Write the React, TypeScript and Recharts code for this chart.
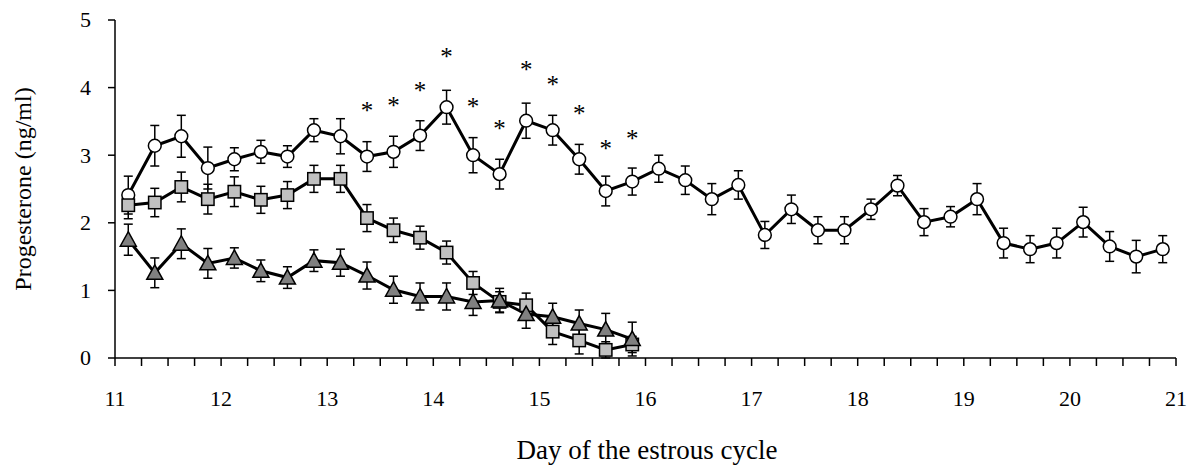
import React from 'react';
import { ComposedChart, Line, Scatter, XAxis, YAxis, ErrorBar, Label } from 'recharts';

const days = [
  11.125, 11.375, 11.625, 11.875, 12.125, 12.375, 12.625, 12.875, 13.125, 13.375,
  13.625, 13.875, 14.125, 14.375, 14.625, 14.875, 15.125, 15.375, 15.625, 15.875,
  16.125, 16.375, 16.625, 16.875, 17.125, 17.375, 17.625, 17.875, 18.125, 18.375,
  18.625, 18.875, 19.125, 19.375, 19.625, 19.875, 20.125, 20.375, 20.625, 20.875,
];

const circleMean = [
  2.41, 3.14, 3.28, 2.81, 2.94, 3.05, 2.98, 3.37, 3.28, 2.98,
  3.05, 3.29, 3.71, 3.0, 2.72, 3.51, 3.37, 2.94, 2.47, 2.61,
  2.8, 2.63, 2.35, 2.56, 1.82, 2.2, 1.89, 1.89, 2.2, 2.55,
  2.01, 2.09, 2.35, 1.7, 1.61, 1.7, 2.01, 1.65, 1.5, 1.61,
];
const circleErr = [
  0.28, 0.3, 0.31, 0.31, 0.17, 0.17, 0.16, 0.17, 0.26, 0.22,
  0.23, 0.22, 0.25, 0.26, 0.22, 0.26, 0.22, 0.22, 0.22, 0.2,
  0.2, 0.21, 0.23, 0.21, 0.2, 0.21, 0.2, 0.2, 0.15, 0.15,
  0.2, 0.15, 0.23, 0.22, 0.2, 0.22, 0.22, 0.22, 0.24, 0.2,
];

const squareMean = [
  2.26, 2.3, 2.53, 2.35, 2.46, 2.34, 2.41, 2.65, 2.65, 2.07,
  1.89, 1.78, 1.56, 1.11, 0.83, 0.78, 0.39, 0.26, 0.12, 0.2,
];
const squareErr = [
  0.2, 0.21, 0.22, 0.22, 0.22, 0.2, 0.2, 0.2, 0.2, 0.2,
  0.18, 0.17, 0.17, 0.17, 0.15, 0.18, 0.19, 0.2, 0.12, 0.12,
];

const triMean = [
  1.75, 1.26, 1.69, 1.4, 1.48, 1.29, 1.19, 1.44, 1.41, 1.22,
  1.01, 0.91, 0.91, 0.83, 0.85, 0.65, 0.61, 0.51, 0.42, 0.28,
];
const triErr = [
  0.23, 0.22, 0.22, 0.22, 0.15, 0.16, 0.16, 0.16, 0.2, 0.2,
  0.2, 0.2, 0.2, 0.2, 0.18, 0.21, 0.2, 0.2, 0.24, 0.25,
];

const starDays = [13.375, 13.625, 13.875, 14.125, 14.375, 14.625, 14.875, 15.125, 15.375, 15.625, 15.875];
const starLevel = [3.72, 3.79, 4.01, 4.51, 3.77, 3.45, 4.32, 4.1, 3.67, 3.15, 3.3];

const xTicks = [
  11, 11.25, 11.5, 11.75, 12, 12.25, 12.5, 12.75, 13, 13.25, 13.5, 13.75,
  14, 14.25, 14.5, 14.75, 15, 15.25, 15.5, 15.75, 16, 16.25, 16.5, 16.75,
  17, 17.25, 17.5, 17.75, 18, 18.25, 18.5, 18.75, 19, 19.25, 19.5, 19.75,
  20, 20.25, 20.5, 20.75, 21,
];
const xLabels = ['11', '12', '13', '14', '15', '16', '17', '18', '19', '20', '21'];
const yTicks = [0, 1, 2, 3, 4, 5];
const yLabels = ['0', '1', '2', '3', '4', '5'];

const data = days.map((d, i) => ({
  x: d,
  c: circleMean[i],
  cErr: circleErr[i],
  s: squareMean[i],
  sErr: squareErr[i],
  t: triMean[i],
  tErr: triErr[i],
}));

const starData = starDays.map((d, i) => ({ x: d, y: starLevel[i] }));

const FONT = "'Liberation Serif', 'Times New Roman', serif";

const SquareDot = (props: any) => {
  const { cx, cy, index } = props;
  if (cx == null || cy == null || props.value == null) return <g key={`s${index}`} />;
  return <rect key={`s${index}`} x={cx - 6.2} y={cy - 6.2} width={12.4} height={12.4} fill="#c0c0c0" stroke="#000" strokeWidth={1.5} />;
};

const TriDot = (props: any) => {
  const { cx, cy, index } = props;
  if (cx == null || cy == null || props.value == null) return <g key={`t${index}`} />;
  const pts = `${cx},${cy - 8} ${cx + 8},${cy + 6.5} ${cx - 8},${cy + 6.5}`;
  return <polygon key={`t${index}`} points={pts} fill="#808080" stroke="#000" strokeWidth={1.5} />;
};

const CircleDot = (props: any) => {
  const { cx, cy, index } = props;
  if (cx == null || cy == null) return <g key={`c${index}`} />;
  return <circle key={`c${index}`} cx={cx} cy={cy} r={6.4} fill="#fff" stroke="#000" strokeWidth={1.5} />;
};

const Star = (props: any) => {
  const { cx, cy } = props;
  return (
    <text x={cx} y={cy + 12} textAnchor="middle" fontFamily={FONT} fontSize={25} fill="#000">*</text>
  );
};

const XTick = (props: any) => {
  const { x, y, payload } = props;
  const v = payload.value;
  const idx = Number.isInteger(v) ? v - 11 : -1;
  if (idx < 0) return <g />;
  return (
    <text x={x} y={y + 24} textAnchor="middle" fontFamily={FONT} fontSize={22} fill="#000">
      {xLabels[idx]}
    </text>
  );
};

const YTick = (props: any) => {
  const { y, payload } = props;
  const idx = yTicks.indexOf(payload.value);
  return (
    <text x={83} y={y + 7.4} textAnchor="end" fontFamily={FONT} fontSize={22} fill="#000">
      {yLabels[idx]}
    </text>
  );
};

export default function App() {
  return (
    <ComposedChart width={1180} height={460} data={data} margin={{ top: 12, right: 12, left: 0, bottom: 8 }}>
      <XAxis
        dataKey="x"
        type="number"
        domain={[11, 21]}
        ticks={xTicks}
        interval={0}
        allowDecimals
        height={102}
        tickSize={8}
        tickMargin={16}
        tick={<XTick />}
        axisLine={{ stroke: '#000', strokeWidth: 1.5 }}
        tickLine={{ stroke: '#000', strokeWidth: 1.5 }}
      >
        <Label
          content={() => (
            <text x={639} y={451} textAnchor="middle" fontFamily={FONT} fontSize={27} fill="#000">
              Day of the estrous cycle
            </text>
          )}
        />
      </XAxis>
      <YAxis
        type="number"
        domain={[0, 5]}
        ticks={yTicks}
        interval={0}
        width={107}
        tickSize={7}
        tickMargin={17}
        tick={<YTick />}
        axisLine={{ stroke: '#000', strokeWidth: 1.5 }}
        tickLine={{ stroke: '#000', strokeWidth: 1.5 }}
      >
        <Label
          content={() => (
            <text x={15} y={181} transform="rotate(-90, 15, 181)" textAnchor="middle" dominantBaseline="central" fontFamily={FONT} fontSize={24} fill="#000">
              Progesterone (ng/ml)
            </text>
          )}
        />
      </YAxis>
      <Line
        dataKey="c"
        stroke="#000"
        strokeWidth={3}
        dot={<CircleDot />}
        activeDot={false}
        isAnimationActive={false}
      >
        <ErrorBar dataKey="cErr" direction="y" width={4.5} stroke="#000" strokeWidth={1.5} />
      </Line>
      <Line
        dataKey="s"
        stroke="#000"
        strokeWidth={3}
        dot={<SquareDot />}
        activeDot={false}
        isAnimationActive={false}
      >
        <ErrorBar dataKey="sErr" direction="y" width={4.5} stroke="#000" strokeWidth={1.5} />
      </Line>
      <Line
        dataKey="t"
        stroke="#000"
        strokeWidth={3}
        dot={<TriDot />}
        activeDot={false}
        isAnimationActive={false}
      >
        <ErrorBar dataKey="tErr" direction="y" width={4.5} stroke="#000" strokeWidth={1.5} />
      </Line>
      <Scatter data={starData} dataKey="y" shape={<Star />} isAnimationActive={false} />
    </ComposedChart>
  );
}
